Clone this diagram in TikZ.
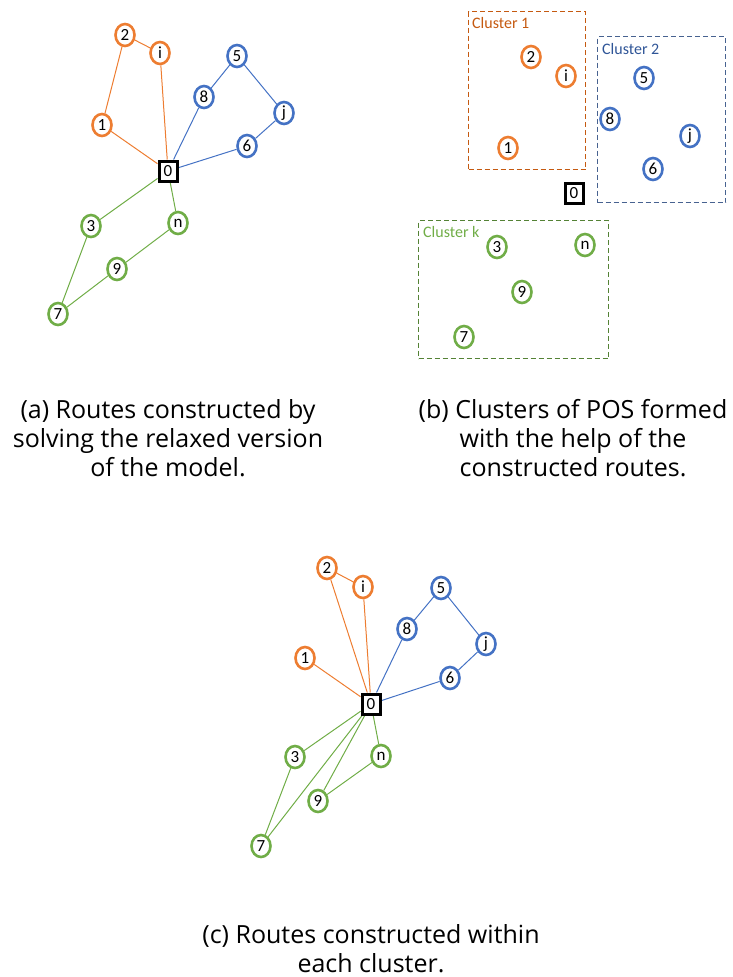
\documentclass[tikz,border=0pt]{standalone}
\usepackage{fontspec}
\setmainfont{Open Sans}
\newfontfamily\nodefont{Carlito}
\usetikzlibrary{shapes.geometric,backgrounds}
\definecolor{cor}{HTML}{ED7D31}
\definecolor{cbl}{HTML}{4472C4}
\definecolor{cgr}{HTML}{70AD47}
\definecolor{lor}{HTML}{C55A11}
\definecolor{lbl}{HTML}{2F5597}
\definecolor{lgr}{HTML}{548235}
\tikzset{
  pos/.style={ellipse, draw=#1, line width=2.6pt, fill=white, minimum width=19pt, minimum height=22pt, inner sep=0pt, font=\nodefont\fontsize{17}{17}\selectfont},
  depot/.style={rectangle, draw=black, line width=3pt, fill=white, minimum width=18pt, minimum height=20pt, inner sep=0pt, font=\nodefont\fontsize{17}{17}\selectfont},
  route/.style={draw=#1, line width=1pt},
  cbox/.style={draw=#1, line width=1.1pt, dash pattern=on 5pt off 3pt},
  clabel/.style={anchor=west, text=#1, inner sep=0pt, font=\nodefont\fontsize{16}{16}\selectfont},
  captext/.style={align=center, font=\fontsize{25}{29}\selectfont, inner sep=0pt}
}
\begin{document}
\begin{tikzpicture}[x=1pt,y=-1pt]
\useasboundingbox (0,0) rectangle (732,977);
% ---------- panel (a)
\node[depot] (a0) at (168,171) {0};
\node[pos=cor] (a2) at (125,35) {2};
\node[pos=cor] (ai) at (160,53) {i};
\node[pos=cor] (a1) at (102,125) {1};
\node[pos=cbl] (a5) at (237,56) {5};
\node[pos=cbl] (a8) at (204,97) {8};
\node[pos=cbl] (aj) at (284,113) {j};
\node[pos=cbl] (a6) at (247,146) {6};
\node[pos=cgr] (a3) at (91,226) {3};
\node[pos=cgr] (an) at (178,223) {n};
\node[pos=cgr] (a9) at (117,269) {9};
\node[pos=cgr] (a7) at (58,314) {7};
\begin{pgfonlayer}{background}
\path[route=cor] (a2) -- (ai) (a2) -- (a1) (a1) -- (a0) (ai) -- (a0);
\path[route=cbl] (a0) -- (a8) (a8) -- (a5) (a5) -- (aj) (aj) -- (a6) (a6) -- (a0);
\path[route=cgr] (a0) -- (a3) (a3) -- (a7) (a7) -- (a9) (a9) -- (an) (an) -- (a0);
\end{pgfonlayer}
% ---------- panel (b)
\node[cbox=lor, minimum width=117pt, minimum height=158pt, anchor=north west] (b1) at (468,11) {};
\node[cbox=lbl!70!gray, minimum width=128pt, minimum height=166pt, anchor=north west] (b2) at (597,36) {};
\node[cbox=lgr, minimum width=190pt, minimum height=138pt, anchor=north west] (bk) at (418,220) {};
\node[clabel=lor] (l1) at (472,23) {Cluster 1};
\node[clabel=lbl] (l2) at (602,49) {Cluster 2};
\node[clabel=cgr] (lk) at (423,232) {Cluster k};
\node[pos=cor] (b2n) at (531,57) {2};
\node[pos=cor] (bi) at (566,76) {i};
\node[pos=cor] (b1n) at (508,148) {1};
\node[depot] (b0) at (574,193) {0};
\node[pos=cbl] (b5) at (644,78) {5};
\node[pos=cbl] (b8) at (610,119) {8};
\node[pos=cbl] (bj) at (690,136) {j};
\node[pos=cbl] (b6) at (653,169) {6};
\node[pos=cgr] (b3) at (497,247) {3};
\node[pos=cgr] (bn) at (585,245) {n};
\node[pos=cgr] (b9) at (522,292) {9};
\node[pos=cgr] (b7) at (464,337) {7};
% ---------- panel (c)
\node[depot] (c0) at (371,704) {0};
\node[pos=cor] (c2) at (327,568) {2};
\node[pos=cor] (ci) at (363,587) {i};
\node[pos=cor] (c1) at (305,658) {1};
\node[pos=cbl] (c5) at (441,588) {5};
\node[pos=cbl] (c8) at (407,629) {8};
\node[pos=cbl] (cj) at (486,644) {j};
\node[pos=cbl] (c6) at (450,678) {6};
\node[pos=cgr] (c3) at (295,757) {3};
\node[pos=cgr] (cn) at (381,756) {n};
\node[pos=cgr] (c9) at (318,801) {9};
\node[pos=cgr] (c7) at (261,846) {7};
\begin{pgfonlayer}{background}
\path[route=cor] (c2) -- (ci) (c2) -- (c0) (ci) -- (c0) (c1) -- (c0);
\path[route=cbl] (c0) -- (c8) (c8) -- (c5) (c5) -- (cj) (cj) -- (c6) (c6) -- (c0);
\path[route=cgr] (c0) -- (c3) (c3) -- (c7) (c7) -- (c0) (c0) -- (c9) (c9) -- (cn) (cn) -- (c0);
\end{pgfonlayer}
% ---------- captions
\node[captext] (capa) at (168,438) {(a) Routes constructed by\\solving the relaxed version\\of the model.};
\node[captext] (capb) at (573,438) {(b) Clusters of POS formed\\with the help of the\\constructed routes.};
\node[captext] (capc) at (371,949) {(c) Routes constructed within\\each cluster.};
\end{tikzpicture}
\end{document}
